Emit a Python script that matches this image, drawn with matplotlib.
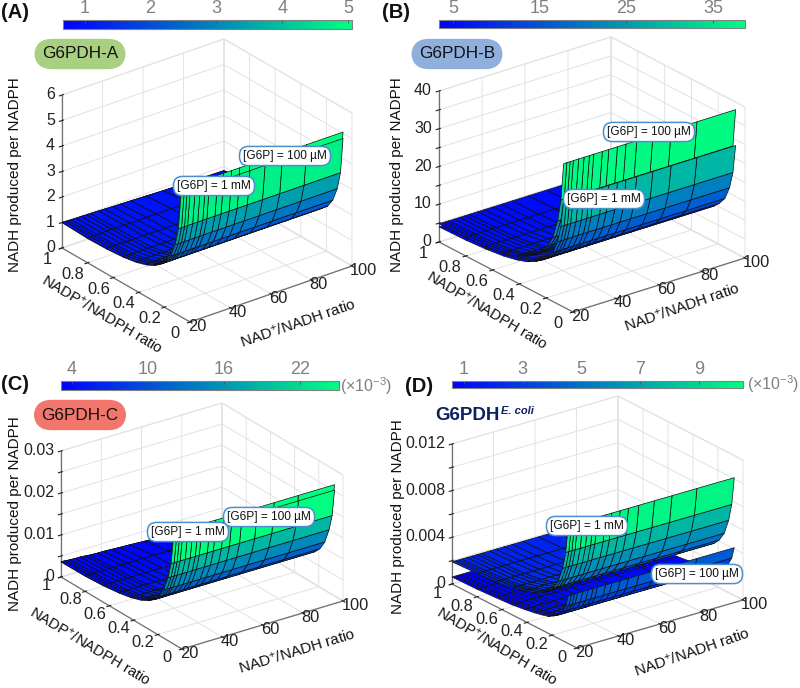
"""
Four 3D surface panels of NADH produced per NADPH for the G6PDH enzymes.
"""

import numpy as np
import matplotlib
matplotlib.use("Agg")
import matplotlib.pyplot as plt
from matplotlib.cm import ScalarMappable
from matplotlib.colors import Normalize
from matplotlib.transforms import ScaledTranslation

plt.rcParams["font.family"] = ["Liberation Sans", "DejaVu Sans"]
plt.rcParams["mathtext.default"] = "regular"

W, H = 800, 688

# grid of the surfaces
nad_ratio = [20, 21.5, 23, 24.5, 27, 29.5, 32, 34, 38, 41, 45, 49, 54, 61.5, 70, 82, 100]
nadp_ratio = [0.07, 0.09, 0.115, 0.15, 0.19, 0.23, 0.28, 0.34, 0.42, 0.52, 0.65, 0.8, 1]

# NADH per NADPH along nadp_ratio, nearly the same at every nad_ratio
a_100uM = [5.05, 3.6, 2.85, 2.25, 1.9, 1.65, 1.45, 1.3, 1.15, 1.05, 1.0, 0.98, 1.0]
a_1mM = [4.8, 3.4, 2.7, 2.15, 1.8, 1.6, 1.4, 1.25, 1.12, 1.03, 0.97, 0.95, 0.95]
b_100uM = [38, 28, 22, 17, 14, 12, 10, 8.6, 7, 6, 5.3, 5, 4.8]
b_1mM = [28.5, 21, 16.5, 13, 11, 9.5, 8.2, 7, 6, 5.2, 4.6, 4.2, 4]
c_100uM = [.0265, .0195, .0155, .012, .0095, .008, .0069, .006, .0051, .0045, .004, .0037, .0036]
c_1mM = [.0252, .0188, .015, .0115, .0092, .0078, .0067, .0058, .005, .0044, .0039, .0036, .0034]
d_1mM = [.0101, .0077, .0062, .0049, .0041, .0036, .0032, .0029, .0026, .0023, .0021, .002, .0019]
d_100uM = [.0041, .0031, .0025, .002, .0017, .00145, .0013, .00115, .001, .00085, .00075, .00065, .0006]

# far edge (ratio 1) sinks a little with nad_ratio in A and C
a_far = [1.0, 1.0, .99, .99, .98, .98, .97, .97, .96, .95, .94, .93, .92, .9, .88, .86, .84]
c_far = [.0036, .0036, .0035, .0035, .0034, .0034, .0033, .0032, .0031, .0031, .003, .0029, .0028,
         .0026, .0024, .0022, .0019]

x_ticks = [20, 40, 60, 80, 100]
y_ticks = [0, 0.2, 0.4, 0.6, 0.8, 1]
y_labels = ["0", "0.2", "0.4", "0.6", "0.8", "1"]

a_zticks = [0, 1, 2, 3, 4, 5, 6]
a_zlabels = ["0", "1", "2", "3", "4", "5", "6"]
b_zticks = [0, 5, 10, 15, 20, 25, 30, 35, 40]
b_zlabels = ["0", "", "10", "", "20", "", "30", "", "40"]
c_zticks = [0, .005, .01, .015, .02, .025, .03]
c_zlabels = ["0", "", "0.01", "", "0.02", "", "0.03"]
d_zticks = [0, .002, .004, .006, .008, .01, .012]
d_zlabels = ["0", "", "0.004", "", "0.008", "", "0.012"]

a_clim = (0.67, 5.06)
b_clim = (3.4, 38.7)
c_clim = (.00313, .02507)
d_clim = (.0006, .0105)

# rows below this index are the steep wall, the rest the flat floor
WALL_ROWS = 6

fig = plt.figure(figsize=(W / 100, H / 100), dpi=100)


def fx(px):
    return px / W


def fy(py):
    return 1 - py / H


def make_axes(left, bottom, right, ztop, zmax):
    # work out the view from the pixel corners of the box
    hx, rx = right[0] - bottom[0], bottom[1] - right[1]
    hy, ry = bottom[0] - left[0], bottom[1] - left[1]
    hz = left[1] - ztop
    sin_e = np.sqrt(rx / hx * ry / hy)
    theta = np.arctan(np.sqrt((ry / hy) / (rx / hx)))
    e = np.arcsin(sin_e)
    lens = np.array([hx / np.sin(theta), hy / np.cos(theta), hz / np.cos(e)])

    size = 560
    cx = (left[0] + right[0]) / 2
    cy = (left[1] + right[1]) / 2 - hz / 2
    frac = 0.095 / 0.185
    ax = fig.add_axes([fx(cx - frac * size), fy(cy + frac * size), size / W, size / H],
                      projection="3d", proj_type="ortho", computed_zorder=False)
    ax.view_init(elev=np.degrees(e), azim=-(180 - np.degrees(theta)))
    zoom = np.linalg.norm(lens) / (1.8294640721620434 * 25 / 24) * 1.85 / size
    ax.set_box_aspect(lens, zoom=zoom)
    ax.set_xlim(20, 100, view_margin=0)
    ax.set_ylim(0, 1, view_margin=0)
    ax.set_zlim(0, zmax, view_margin=0)
    ax.patch.set_visible(False)
    return ax


def draw_part(ax, profile, clim, part, far=None):
    X, Y = np.meshgrid(nad_ratio, nadp_ratio)
    Z = np.tile(np.array(profile, dtype=float), (len(nad_ratio), 1)).T
    if far is not None:
        Z[-1] = far
    colors = plt.cm.winter(Normalize(*clim)(Z))
    if part == "wall":
        rows = slice(0, WALL_ROWS + 1)
    else:
        rows = slice(WALL_ROWS, None)
    ax.plot_surface(X[rows], Y[rows], Z[rows], facecolors=colors[rows], rstride=1, cstride=1,
                    shade=False, edgecolor="#101010", linewidth=0.5, antialiased=True)


def style_axes(ax, zticks, zlabels):
    ax.set_xticks(x_ticks)
    ax.set_yticks(y_ticks)
    ax.set_yticklabels(y_labels)
    ax.set_zticks(zticks)
    ax.set_zticklabels(zlabels)
    for axis in (ax.xaxis, ax.yaxis, ax.zaxis):
        axis.pane.set_facecolor("white")
        axis.pane.set_edgecolor("#d8d8d8")
        axis.line.set_color("#707070")
        axis.line.set_linewidth(0.9)
        axis._axinfo["grid"]["color"] = "#e2e2e2"
        axis._axinfo["grid"]["linewidth"] = 0.7
        axis._axinfo["tick"]["color"] = "#707070"
    ax.tick_params(axis="x", labelsize=11.8, pad=-11, colors="#222222")
    ax.tick_params(axis="y", labelsize=11.8, pad=11, colors="#222222")
    ax.tick_params(axis="z", labelsize=11.5, pad=-3, colors="#222222")
    ax.zaxis.set_ticks_position("upper")
    plt.setp(ax.xaxis.get_majorticklabels(), ha="left")
    plt.setp(ax.yaxis.get_majorticklabels(), va="bottom")
    plt.setp(ax.zaxis.get_majorticklabels(), ha="right", va="center")
    # nudge the x tick labels, the pad alone cannot move them down and right
    shift = ScaledTranslation(5 / 100, -5 / 100, fig.dpi_scale_trans)
    for t in ax.xaxis.get_majorticklabels():
        t.set_transform(t.get_transform() + shift)


def add_colorbar(x0, x1, y0, y1, clim, ticks, labels):
    cax = fig.add_axes([fx(x0), fy(y1), (x1 - x0) / W, (y1 - y0) / H])
    cb = fig.colorbar(ScalarMappable(Normalize(*clim), "winter"), cax=cax,
                      orientation="horizontal", ticklocation="top")
    cb.set_ticks(ticks, labels=labels)
    cb.outline.set_edgecolor("#808080")
    cb.outline.set_linewidth(0.8)
    cax.tick_params(axis="x", direction="in", length=2, width=0.6, color="#505050",
                    labelcolor="#808080", labelsize=13, pad=2)


def add_labels(zpos, xpos, xrot, ypos, yrot):
    fig.text(fx(zpos[0]), fy(zpos[1]), "NADH produced per NADPH", rotation=90,
             ha="center", va="center", fontsize=11, color="#111111")
    fig.text(fx(xpos[0]), fy(xpos[1]), "NAD$^{+}$/NADH ratio", rotation=xrot,
             ha="center", va="center", fontsize=11, color="#111111")
    fig.text(fx(ypos[0]), fy(ypos[1]), "NADP$^{+}$/NADPH ratio", rotation=yrot,
             ha="center", va="center", fontsize=10.7, color="#111111")


def g6p_label(pos, txt):
    fig.text(fx(pos[0]), fy(pos[1]), txt, ha="center", va="center", fontsize=8.6,
             color="#111111", zorder=20,
             bbox=dict(boxstyle="round,pad=0.3,rounding_size=0.75", fc="white",
                       ec="#4a90d0", lw=1.1))


def badge(pos, txt, color):
    fig.text(fx(pos[0]), fy(pos[1]), txt, ha="center", va="center", fontsize=12.3,
             color="#111111", zorder=20,
             bbox=dict(boxstyle="round,pad=0.45,rounding_size=1.05", fc=color, ec="none"))


def panel_letter(pos, txt):
    fig.text(fx(pos[0]), fy(pos[1]), txt, ha="left", va="center", fontsize=14.5,
             fontweight="bold", color="#111111")


# (A)
ax = make_axes((62, 248), (190, 322), (352, 266), 95, 6)
style_axes(ax, a_zticks, a_zlabels)
draw_part(ax, a_1mM, a_clim, "floor", a_far)
draw_part(ax, a_100uM, a_clim, "floor", a_far)
draw_part(ax, a_100uM, a_clim, "wall")
draw_part(ax, a_1mM, a_clim, "wall")
add_colorbar(63, 352, 20, 29, a_clim, [1, 2, 3, 4, 5], ["1", "2", "3", "4", "5"])
add_labels((15, 175), (298, 323), 19, (102, 314), -31)
g6p_label((285, 156), "[G6P] = 100 µM")
g6p_label((214, 186), "[G6P] = 1 mM")
badge((80, 54), "G6PDH-A", "#a8d080")
panel_letter((1, 13), "(A)")

# (B)
ax = make_axes((439, 242), (573, 312), (745, 258), 91, 40)
style_axes(ax, b_zticks, b_zlabels)
draw_part(ax, b_1mM, b_clim, "floor")
draw_part(ax, b_100uM, b_clim, "floor")
draw_part(ax, b_100uM, b_clim, "wall")
draw_part(ax, b_1mM, b_clim, "wall")
add_colorbar(439, 745, 20, 28, b_clim, [5, 15, 25, 35], ["5", "15", "25", "35"])
add_labels((397, 175), (682, 307), 19, (487, 310), -31)
g6p_label((649, 132), "[G6P] = 100 µM")
g6p_label((604, 199), "[G6P] = 1 mM")
badge((457, 54), "G6PDH-B", "#8fb0dc")
panel_letter((382, 13), "(B)")

# (C)
ax = make_axes((61, 577), (182, 649), (343, 601), 451, 0.03)
style_axes(ax, c_zticks, c_zlabels)
draw_part(ax, c_1mM, c_clim, "floor", c_far)
draw_part(ax, c_100uM, c_clim, "floor", c_far)
draw_part(ax, c_100uM, c_clim, "wall")
draw_part(ax, c_1mM, c_clim, "wall")
add_colorbar(61, 339, 381, 390, c_clim, [.004, .01, .016, .022], ["4", "10", "16", "22"])
fig.text(fx(340), fy(386), "(×10$^{-3}$)", ha="left", va="center", fontsize=11.5, color="#808080")
add_labels((15, 514), (297, 651), 17, (90, 646), -31)
g6p_label((269, 517), "[G6P] = 100 µM")
g6p_label((188, 532), "[G6P] = 1 mM")
badge((80, 415), "G6PDH-C", "#f2766c")
panel_letter((1, 384), "(C)")

# (D)
ax = make_axes((452, 584), (577, 648), (743, 600), 444, 0.012)
style_axes(ax, d_zticks, d_zlabels)
draw_part(ax, d_100uM, d_clim, "floor")
draw_part(ax, d_1mM, d_clim, "floor")
draw_part(ax, d_1mM, d_clim, "wall")
draw_part(ax, d_100uM, d_clim, "wall")
add_colorbar(452, 743, 381, 388, d_clim, [.001, .003, .005, .007, .009], ["1", "3", "5", "7", "9"])
fig.text(fx(747), fy(384), "(×10$^{-3}$)", ha="left", va="center", fontsize=11.5, color="#808080")
add_labels((398, 517), (692, 652), 19, (497, 646), -31)
g6p_label((587, 526), "[G6P] = 1 mM")
g6p_label((697, 574), "[G6P] = 100 µM")
fig.text(fx(435), fy(415), "G6PDH", ha="left", va="center", fontsize=13.5,
         fontweight="bold", color="#0d2060")
fig.text(fx(501), fy(411), "E. coli", ha="left", va="center", fontsize=8,
         fontweight="bold", fontstyle="italic", color="#0d2060")
panel_letter((405, 386), "(D)")

fig.savefig("out.png", dpi=100)
